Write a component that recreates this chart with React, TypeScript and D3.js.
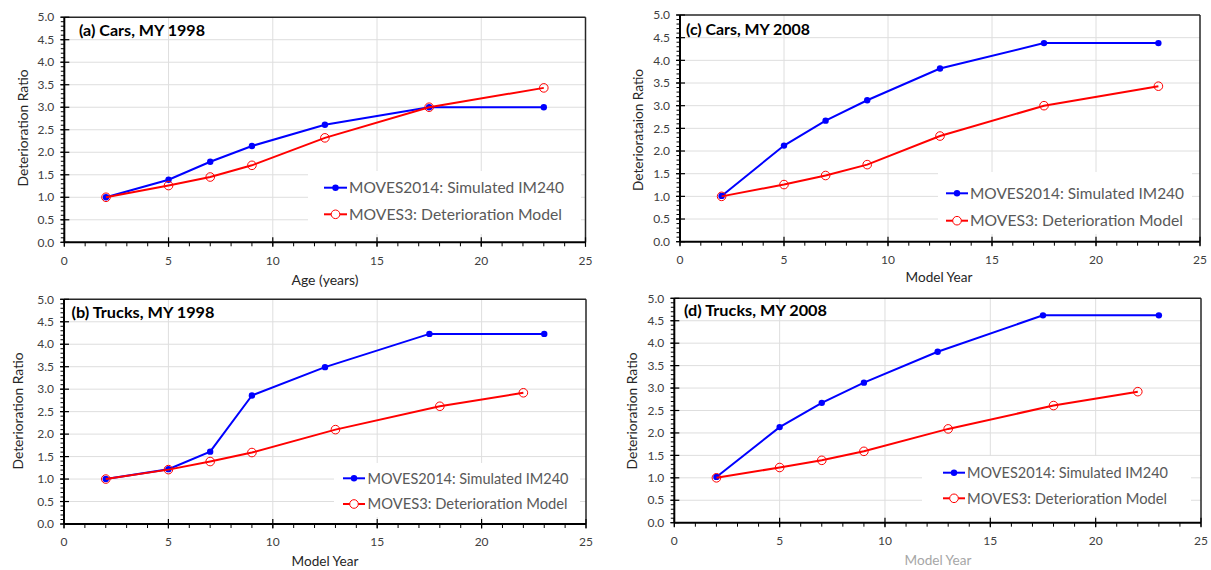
import React from "react";
import * as d3 from "d3";

// ---------- DATA ----------
const ageCats = [2, 5, 7, 9, 12.5, 17.5, 23];
const truckModelAges = [2, 5, 7, 9, 13, 18, 22];

const carsMY1998_MOVES2014 = [1.0, 1.39, 1.79, 2.14, 2.61, 3.0, 3.0];
const carsMY1998_MOVES3 = [1.0, 1.26, 1.45, 1.71, 2.32, 3.0, 3.43];

const carsMY2008_MOVES2014 = [1.01, 2.12, 2.67, 3.12, 3.82, 4.38, 4.38];
const carsMY2008_MOVES3 = [1.0, 1.26, 1.46, 1.7, 2.33, 3.0, 3.43];

const trucksMY1998_MOVES2014 = [1.0, 1.22, 1.61, 2.86, 3.49, 4.23, 4.23];
const trucksMY1998_MOVES3 = [1.0, 1.21, 1.39, 1.59, 2.1, 2.62, 2.92];

const trucksMY2008_MOVES2014 = [1.02, 2.13, 2.67, 3.12, 3.81, 4.62, 4.62];
const trucksMY2008_MOVES3 = [1.0, 1.23, 1.39, 1.59, 2.09, 2.61, 2.92];

const xTicks = [0, 5, 10, 15, 20, 25];
const yTicks = [0, 0.5, 1, 1.5, 2, 2.5, 3, 3.5, 4, 4.5, 5];
const seriesNames = ["MOVES2014: Simulated IM240", "MOVES3: Deterioration Model"];

// ---------- LAYOUT ----------
type Panel = {
  title: string;
  xTitle: string;
  yTitle: string;
  xTitleColor: string;
  blueX: number[];
  blueY: number[];
  redX: number[];
  redY: number[];
  x0: number; x1: number; yTop: number; yBot: number;
  titleX: number; titleY: number; titleW: number;
  xTitleX: number; xTitleY: number; xTitleW: number;
  yTitleX: number; yTitleY: number; yTitleW: number;
  leg: { bx0: number; bx1: number; by0: number; by1: number; y1: number; y2: number; l0: number; l1: number; tx: number; tw1: number; tw2: number; fs: number };
};

const panels: Panel[] = [
  {
    title: "(a) Cars, MY 1998", xTitle: "Age (years)", yTitle: "Deterioration Ratio", xTitleColor: "#262626",
    blueX: ageCats, blueY: carsMY1998_MOVES2014, redX: ageCats, redY: carsMY1998_MOVES3,
    x0: 64.3, x1: 585.5, yTop: 17.2, yBot: 242.3,
    titleX: 79, titleY: 36, titleW: 126,
    xTitleX: 325, xTitleY: 285, xTitleW: 67,
    yTitleX: 23, yTitleY: 128, yTitleW: 117,
    leg: { bx0: 308, bx1: 581, by0: 171, by1: 234, y1: 187.7, y2: 214.3, l0: 324, l1: 347, tx: 349, tw1: 215, tw2: 213, fs: 16 },
  },
  {
    title: "(c) Cars, MY 2008", xTitle: "Model Year", yTitle: "Deteriorataion Ratio", xTitleColor: "#262626",
    blueX: ageCats, blueY: carsMY2008_MOVES2014, redX: ageCats, redY: carsMY2008_MOVES3,
    x0: 680, x1: 1200, yTop: 15, yBot: 241.7,
    titleX: 686, titleY: 35, titleW: 124,
    xTitleX: 939, xTitleY: 282, xTitleW: 67,
    yTitleX: 638, yTitleY: 130, yTitleW: 122,
    leg: { bx0: 938, bx1: 1192, by0: 172, by1: 234, y1: 193.3, y2: 220.7, l0: 946, l1: 968, tx: 970, tw1: 214, tw2: 213, fs: 16 },
  },
  {
    title: "(b) Trucks, MY 1998", xTitle: "Model Year", yTitle: "Deterioration Ratio", xTitleColor: "#262626",
    blueX: ageCats, blueY: trucksMY1998_MOVES2014, redX: truckModelAges, redY: trucksMY1998_MOVES3,
    x0: 64, x1: 586, yTop: 299.3, yBot: 524,
    titleX: 71.5, titleY: 318, titleW: 143,
    xTitleX: 325, xTitleY: 566, xTitleW: 67,
    yTitleX: 18, yTitleY: 411, yTitleW: 117,
    leg: { bx0: 334, bx1: 580, by0: 463, by1: 517, y1: 478.3, y2: 504, l0: 343, l1: 365, tx: 367.5, tw1: 201, tw2: 200, fs: 15 },
  },
  {
    title: "(d) Trucks, MY 2008", xTitle: "Model Year", yTitle: "Deterioration Ratio", xTitleColor: "#a6a6a6",
    blueX: ageCats, blueY: trucksMY2008_MOVES2014, redX: truckModelAges, redY: trucksMY2008_MOVES3,
    x0: 674.3, x1: 1201, yTop: 298.3, yBot: 522.7,
    titleX: 684, titleY: 316, titleW: 143,
    xTitleX: 938, xTitleY: 565, xTitleW: 67,
    yTitleX: 632, yTitleY: 411, yTitleW: 117,
    leg: { bx0: 922, bx1: 1191, by0: 456, by1: 516, y1: 472.7, y2: 498.3, l0: 943, l1: 965, tx: 967, tw1: 201, tw2: 200, fs: 15 },
  },
];

const FONT = "Lato, 'Open Sans', sans-serif";
const BLUE = "#0000ff";
const RED = "#ff0000";

function ChartPanel({ p }: { p: Panel }) {
  const x = d3.scaleLinear().domain([0, 25]).range([p.x0, p.x1]);
  const y = d3.scaleLinear().domain([0, 5]).range([p.yBot, p.yTop]);
  const line = d3.line<[number, number]>().x((d) => x(d[0])).y((d) => y(d[1]));
  const blue: [number, number][] = p.blueX.map((v, i) => [v, p.blueY[i]]);
  const red: [number, number][] = p.redX.map((v, i) => [v, p.redY[i]]);
  const minorX = d3.range(0, 26, 1);
  const minorY = d3.range(0, 51, 1).map((v) => v / 10);
  const L = p.leg;

  return (
    <g>
      {/* gridlines */}
      {yTicks.filter((t) => t > 0 && t < 5).map((t) => (
        <line key={"gy" + t} x1={p.x0} x2={p.x1} y1={y(t)} y2={y(t)} stroke="#dedede" strokeWidth={1} />
      ))}
      {xTicks.filter((t) => t > 0 && t < 25).map((t) => (
        <line key={"gx" + t} x1={x(t)} x2={x(t)} y1={p.yTop} y2={p.yBot} stroke="#dedede" strokeWidth={1} />
      ))}
      {/* legend background */}
      <rect x={L.bx0} y={L.by0} width={L.bx1 - L.bx0} height={L.by1 - L.by0} fill="#ffffff" />
      {/* frame */}
      <line x1={p.x0} x2={p.x1} y1={p.yTop} y2={p.yTop} stroke="#262626" strokeWidth={1.5} />
      <line x1={p.x1} x2={p.x1} y1={p.yTop} y2={p.yBot} stroke="#262626" strokeWidth={1.5} />
      <line x1={p.x0} x2={p.x0} y1={p.yTop} y2={p.yBot} stroke="#000" strokeWidth={2} />
      <line x1={p.x0} x2={p.x1} y1={p.yBot} y2={p.yBot} stroke="#000" strokeWidth={2} />
      {/* minor ticks */}
      {minorY.map((t) => (
        <line key={"my" + t} x1={p.x0 - 3.5} x2={p.x0} y1={y(t)} y2={y(t)} stroke="#000" strokeWidth={1} />
      ))}
      {yTicks.map((t) => (
        <line key={"My" + t} x1={p.x0 - 4} x2={p.x0 + 5} y1={y(t)} y2={y(t)} stroke="#000" strokeWidth={1.2} />
      ))}
      {minorX.map((t) => (
        <line key={"mx" + t} x1={x(t)} x2={x(t)} y1={p.yBot} y2={p.yBot + 4} stroke="#000" strokeWidth={1} />
      ))}
      {xTicks.map((t) => (
        <line key={"Mx" + t} x1={x(t)} x2={x(t)} y1={p.yBot - 5} y2={p.yBot + 4.5} stroke="#000" strokeWidth={1.2} />
      ))}
      {/* tick labels */}
      {yTicks.map((t) => (
        <text key={"ly" + t} x={p.x0 - 10} y={y(t)} dy="0.35em" textAnchor="end" fontSize={12} fill="#404040" fontFamily={FONT}>
          {t.toFixed(1)}
        </text>
      ))}
      {xTicks.map((t) => (
        <text key={"lx" + t} x={x(t)} y={p.yBot + 18} dy="0.35em" textAnchor="middle" fontSize={12} fill="#404040" fontFamily={FONT}>
          {t}
        </text>
      ))}
      {/* axis titles */}
      <text x={p.xTitleX} y={p.xTitleY} textAnchor="middle" fontSize={13} fill={p.xTitleColor} fontFamily={FONT} textLength={p.xTitleW} lengthAdjust="spacingAndGlyphs">
        {p.xTitle}
      </text>
      <text transform={`translate(${p.yTitleX},${p.yTitleY}) rotate(-90)`} textAnchor="middle" dy="0.35em" fontSize={13} fill="#262626" fontFamily={FONT} textLength={p.yTitleW} lengthAdjust="spacingAndGlyphs">
        {p.yTitle}
      </text>
      {/* panel title */}
      <text x={p.titleX} y={p.titleY} fontSize={15} fontWeight="bold" fill="#000" fontFamily={FONT} textLength={p.titleW} lengthAdjust="spacingAndGlyphs">
        {p.title}
      </text>
      {/* series */}
      <path d={line(blue) || ""} fill="none" stroke={BLUE} strokeWidth={2} />
      {blue.map((d, i) => (
        <circle key={"b" + i} cx={x(d[0])} cy={y(d[1])} r={3.2} fill={BLUE} />
      ))}
      <path d={line(red) || ""} fill="none" stroke={RED} strokeWidth={2} />
      {red.map((d, i) => (
        <circle key={"r" + i} cx={x(d[0])} cy={y(d[1])} r={4.3} fill="none" stroke={RED} strokeWidth={1} />
      ))}
      {/* legend */}
      <line x1={L.l0} x2={L.l1} y1={L.y1} y2={L.y1} stroke={BLUE} strokeWidth={2} />
      <circle cx={(L.l0 + L.l1) / 2} cy={L.y1} r={3.2} fill={BLUE} />
      <text x={L.tx} y={L.y1} dy="0.35em" fontSize={L.fs} fill="#595959" fontFamily={FONT} textLength={L.tw1} lengthAdjust="spacingAndGlyphs">
        {seriesNames[0]}
      </text>
      <line x1={L.l0} x2={L.l1} y1={L.y2} y2={L.y2} stroke={RED} strokeWidth={2} />
      <circle cx={(L.l0 + L.l1) / 2} cy={L.y2} r={4.3} fill="#fff" stroke={RED} strokeWidth={1} />
      <text x={L.tx} y={L.y2} dy="0.35em" fontSize={L.fs} fill="#595959" fontFamily={FONT} textLength={L.tw2} lengthAdjust="spacingAndGlyphs">
        {seriesNames[1]}
      </text>
    </g>
  );
}

export default function App() {
  return (
    <svg width={1211} height={570} style={{ position: "absolute", left: 0, top: 0, background: "#fff" }}>
      <rect width={1211} height={570} fill="#fff" />
      {panels.map((p, i) => (
        <ChartPanel key={i} p={p} />
      ))}
    </svg>
  );
}
